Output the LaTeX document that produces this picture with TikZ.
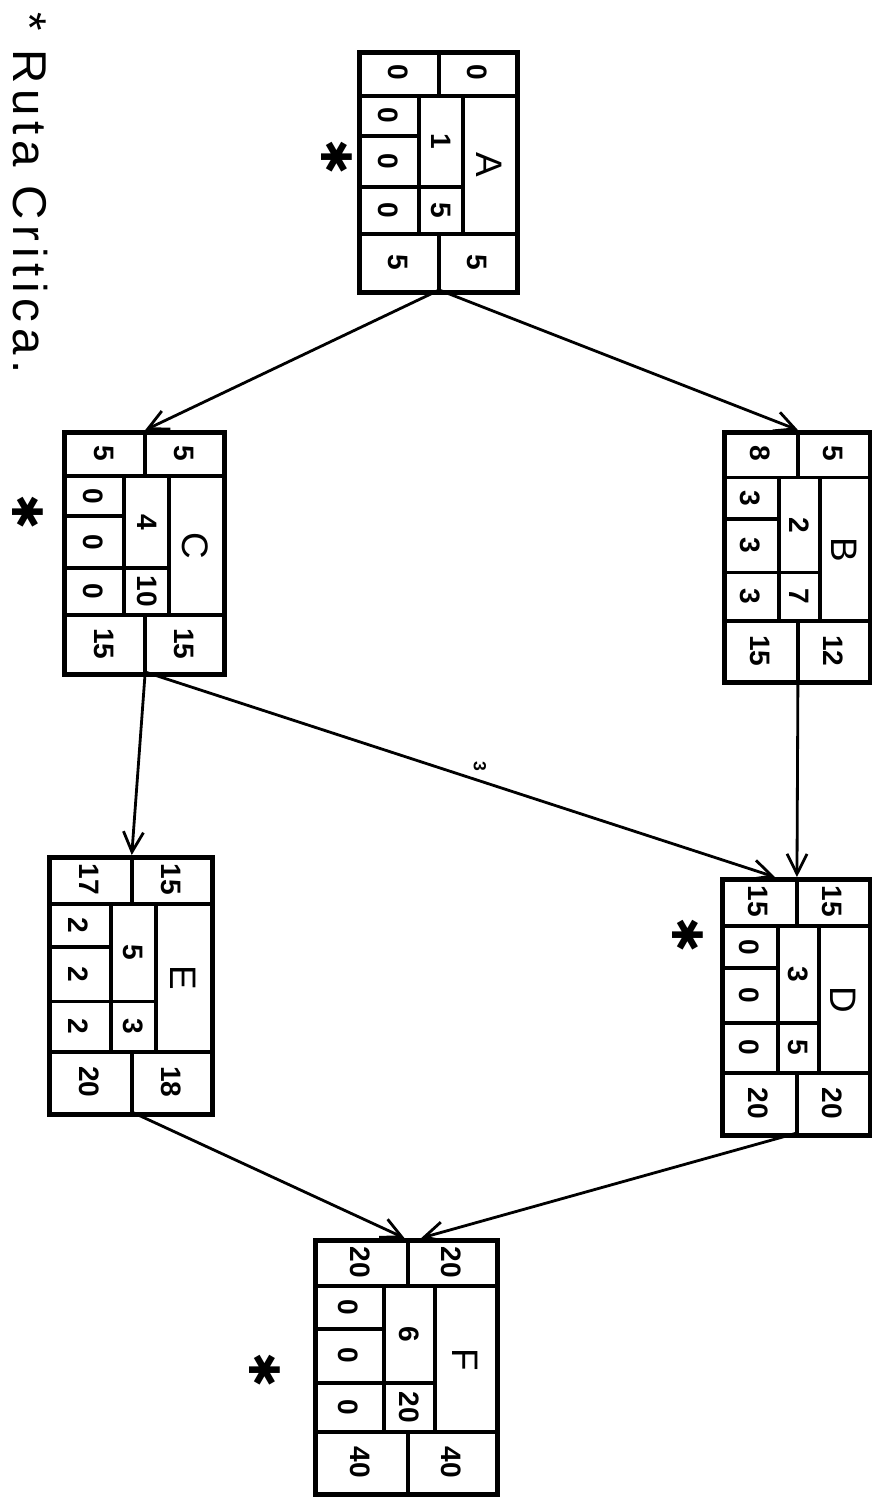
\documentclass[tikz,border=0pt]{standalone}
\usepackage{fontspec}
\setmainfont{Liberation Sans}
\newfontfamily\starfont{DejaVu Sans}
\newfontfamily\notefont[LetterSpace=12]{Liberation Sans}
\usetikzlibrary{arrows.meta, calc}

\tikzset{
  actbox/.style={draw, line width=2.6pt, inner sep=0pt},
  cell/.style={line width=2.2pt},
  val/.style={font=\fontsize{16}{16}\selectfont\bfseries, rotate=-90, inner sep=0pt},
  actname/.style={font=\fontsize{21}{21}\selectfont, rotate=-90, inner sep=0pt},
  link/.style={line width=1.6pt, -{Straight Barb[length=4mm, width=4mm]}},
  critmark/.style={font=\starfont\fontsize{24}{24}\selectfont, rotate=-90, inner sep=0pt},
}

% activity box: name, left, top, width, height, top pair, left column, middle column, bottom pair
\newcommand{\pertbox}[9]{%
  \node[actbox, minimum width=#4*0.02cm, minimum height=#5*0.02cm, anchor=north west] (#1) at (#2,#3) {};
  \begin{scope}[shift={(#1.north west)}, x=#4*0.02cm, y=-#5*0.02cm]
    \draw[cell] (0,0.19) -- (1,0.19) (0,0.765) -- (1,0.765)
      (0.52,0) -- (0.52,0.19) (0.52,0.765) -- (0.52,1)
      (0.39,0.19) -- (0.39,0.765) (0.67,0.19) -- (0.67,0.765)
      (0,0.357) -- (0.39,0.357) (0,0.57) -- (0.67,0.57);
    \coordinate (#1-in) at (0.52,0);
    \coordinate (#1-out) at (0.52,1);
    \foreach \a/\b in {#6} {
      \node[val] (#1-tl) at (0.26,0.095) {\a};
      \node[val] (#1-tr) at (0.76,0.095) {\b};
    }
    \foreach \a/\b/\c in {#7} {
      \node[val] (#1-l1) at (0.195,0.273) {\a};
      \node[val] (#1-l2) at (0.195,0.463) {\b};
      \node[val] (#1-l3) at (0.195,0.667) {\c};
    }
    \foreach \a/\b/\c in {#8} {
      \node[val] (#1-m1) at (0.53,0.38) {\a};
      \node[val] (#1-m2) at (0.53,0.667) {\b};
      \node[actname] (#1-name) at (0.835,0.478) {\c};
    }
    \foreach \a/\b in {#9} {
      \node[val] (#1-bl) at (0.26,0.883) {\a};
      \node[val] (#1-br) at (0.76,0.883) {\b};
    }
  \end{scope}}

\begin{document}
\begin{tikzpicture}[x=0.02cm, y=-0.02cm]
  \useasboundingbox (0,0) rectangle (872,1498);

  % activities
  \pertbox{A}{357}{50}{158}{240}{0/0}{0/0/0}{1/5/A}{5/5}
  \pertbox{B}{722}{430}{146}{250}{8/5}{3/3/3}{2/7/B}{15/12}
  \pertbox{C}{62}{430}{160}{242}{5/5}{0/0/0}{4/10/C}{15/15}
  \pertbox{D}{720}{877}{148}{256}{15/15}{0/0/0}{3/5/D}{20/20}
  \pertbox{E}{47}{855}{163}{257}{17/15}{2/2/2}{5/3/E}{20/18}
  \pertbox{F}{313}{1238}{182}{254}{20/20}{0/0/0}{6/20/F}{40/40}

  \coordinate (D-side) at ($(D.north west)!0.36!(D.north east)$);
  \coordinate (F-left) at ($(F.north west)!0.49!(F.north east)$);
  \coordinate (F-right) at ($(F.north west)!0.58!(F.north east)$);

  % links
  \draw[link] (A-out) -- (B-in);
  \draw[link] (A-out) -- (C-in);
  \draw[link] (B-out) -- (D-in);
  \draw[link] (C-out) -- (D-side);
  \draw[link] (C-out) -- (E-in);
  \draw[link] (E-out) -- (F-left);
  \draw[link] (D-out) -- (F-right);
  \node[rotate=-90, font=\fontsize{10}{10}\selectfont\bfseries, inner sep=0pt] (lag) at (480,766) {3};

  % critical path marks
  \node[critmark] (starA) at (337,157) {✱};
  \node[critmark] (starC) at (28,512) {✱};
  \node[critmark] (starD) at (688,935) {✱};
  \node[critmark] (starF) at (265,1370) {✱};

  \node[rotate=-90, font=\notefont\fontsize{27}{27}\selectfont] (note) at (30,193) {* Ruta Critica.};
\end{tikzpicture}
\end{document}
